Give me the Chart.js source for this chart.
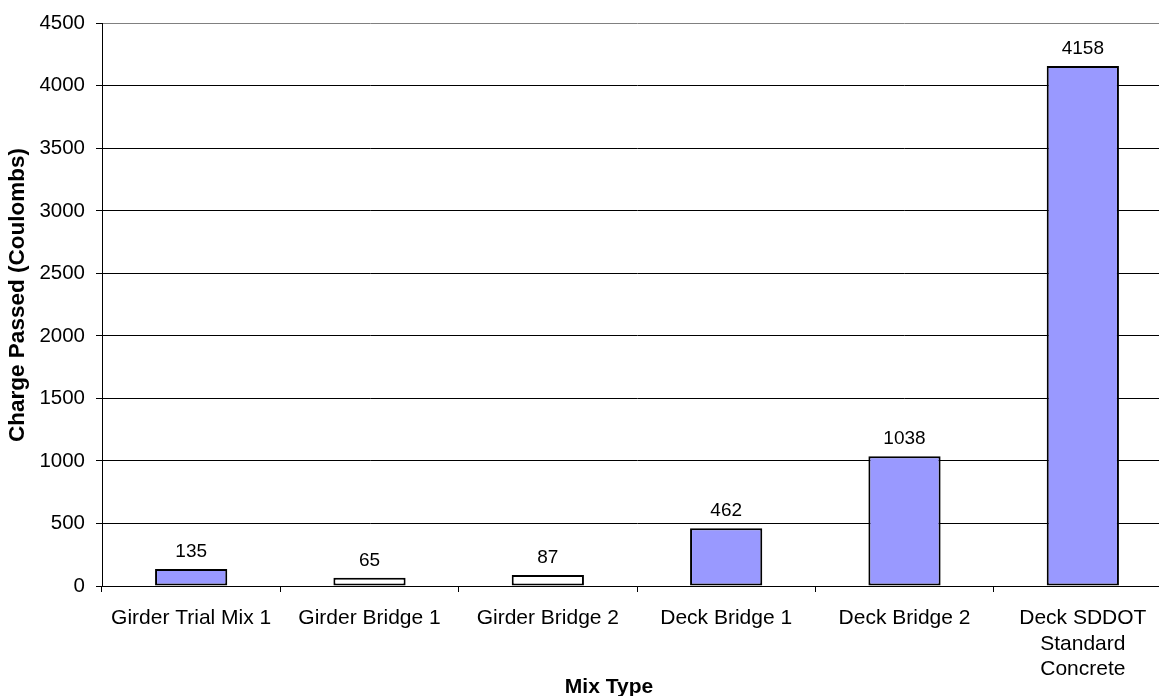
<!DOCTYPE html>
<html>
<head>
<meta charset="utf-8">
<title>Charge Passed by Mix Type</title>
<script src="https://cdn.jsdelivr.net/npm/chart.js@4/dist/chart.umd.min.js"></script>
<style>
  html, body { margin: 0; padding: 0; background: #fff; overflow: hidden; }
  #wrap { width: 1175px; height: 696px; }
</style>
</head>
<body>
<div id="wrap"><canvas id="chart" width="1175" height="696"></canvas></div>
<script>
// Mix types along the x axis
const categories = [
  'Girder Trial Mix 1',
  'Girder Bridge 1',
  'Girder Bridge 2',
  'Deck Bridge 1',
  'Deck Bridge 2',
  ['Deck SDDOT', 'Standard', 'Concrete']
];
// Charge passed, in coulombs
const chargePassed = [135, 65, 87, 462, 1038, 4158];
// Fill per bar: trial/deck mixes shaded, girder bridge mixes left open
const barFills = ['#9999FF', '#FFFFFF', '#FFFFFF', '#9999FF', '#9999FF', '#9999FF'];
// Value axis ticks
const yTicks = [0, 500, 1000, 1500, 2000, 2500, 3000, 3500, 4000, 4500];

const FONT = '"Liberation Sans", Arial, sans-serif';

// Writes each bar's value just above it
const valueLabels = {
  id: 'valueLabels',
  afterDatasetsDraw(chart) {
    const ctx = chart.ctx;
    const meta = chart.getDatasetMeta(0);
    ctx.save();
    ctx.font = '19px ' + FONT;
    ctx.fillStyle = '#000';
    ctx.textAlign = 'center';
    ctx.textBaseline = 'alphabetic';
    meta.data.forEach((bar, i) => {
      ctx.fillText(String(chart.data.datasets[0].data[i]), bar.x, bar.y - 12);
    });
    ctx.restore();
  }
};

// Axis titles
const axisTitles = {
  id: 'axisTitles',
  afterDraw(chart) {
    const ctx = chart.ctx;
    ctx.save();
    ctx.fillStyle = '#000';
    ctx.textAlign = 'center';
    ctx.textBaseline = 'alphabetic';
    ctx.font = 'bold 21px ' + FONT;
    ctx.fillText('Mix Type', 609, 693);
    ctx.font = 'bold 22.5px ' + FONT;
    ctx.translate(24, 295);
    ctx.rotate(-Math.PI / 2);
    ctx.fillText('Charge Passed (Coulombs)', 0, 0);
    ctx.restore();
  }
};

new Chart(document.getElementById('chart'), {
  type: 'bar',
  data: {
    labels: categories,
    datasets: [{
      data: chargePassed,
      backgroundColor: barFills,
      borderColor: '#000',
      borderWidth: 2,
      borderSkipped: false,
      barPercentage: 0.405,
      categoryPercentage: 1
    }]
  },
  options: {
    responsive: false,
    devicePixelRatio: 1,
    animation: false,
    layout: { padding: { top: 22, right: 3, bottom: 0, left: 0 } },
    plugins: {
      legend: { display: false },
      tooltip: { enabled: false }
    },
    scales: {
      x: {
        offset: true,
        grid: {
          offset: true,
          drawOnChartArea: false,
          drawTicks: true,
          tickLength: 6,
          color: '#000'
        },
        border: { color: '#000', width: 1 },
        ticks: {
          color: '#000',
          font: { family: FONT, size: 21, lineHeight: 1.2 },
          padding: 14,
          maxRotation: 0,
          minRotation: 0,
          autoSkip: false
        },
        afterFit(scale) { scale.height = 110; }
      },
      y: {
        min: 0,
        max: 4500,
        afterBuildTicks(scale) { scale.ticks = yTicks.map(v => ({ value: v })); },
        grid: {
          color: ctx => (ctx.tick && ctx.tick.value === 4500 ? '#808080' : '#000'),
          tickColor: '#000',
          tickLength: 6,
          lineWidth: 1
        },
        border: { color: '#000', width: 1 },
        ticks: {
          color: '#000',
          font: { family: FONT, size: 20.5 },
          padding: 11,
          callback: value => String(value)
        },
        afterFit(scale) { scale.width = 102; }
      }
    }
  },
  plugins: [valueLabels, axisTitles]
});
</script>
</body>
</html>
